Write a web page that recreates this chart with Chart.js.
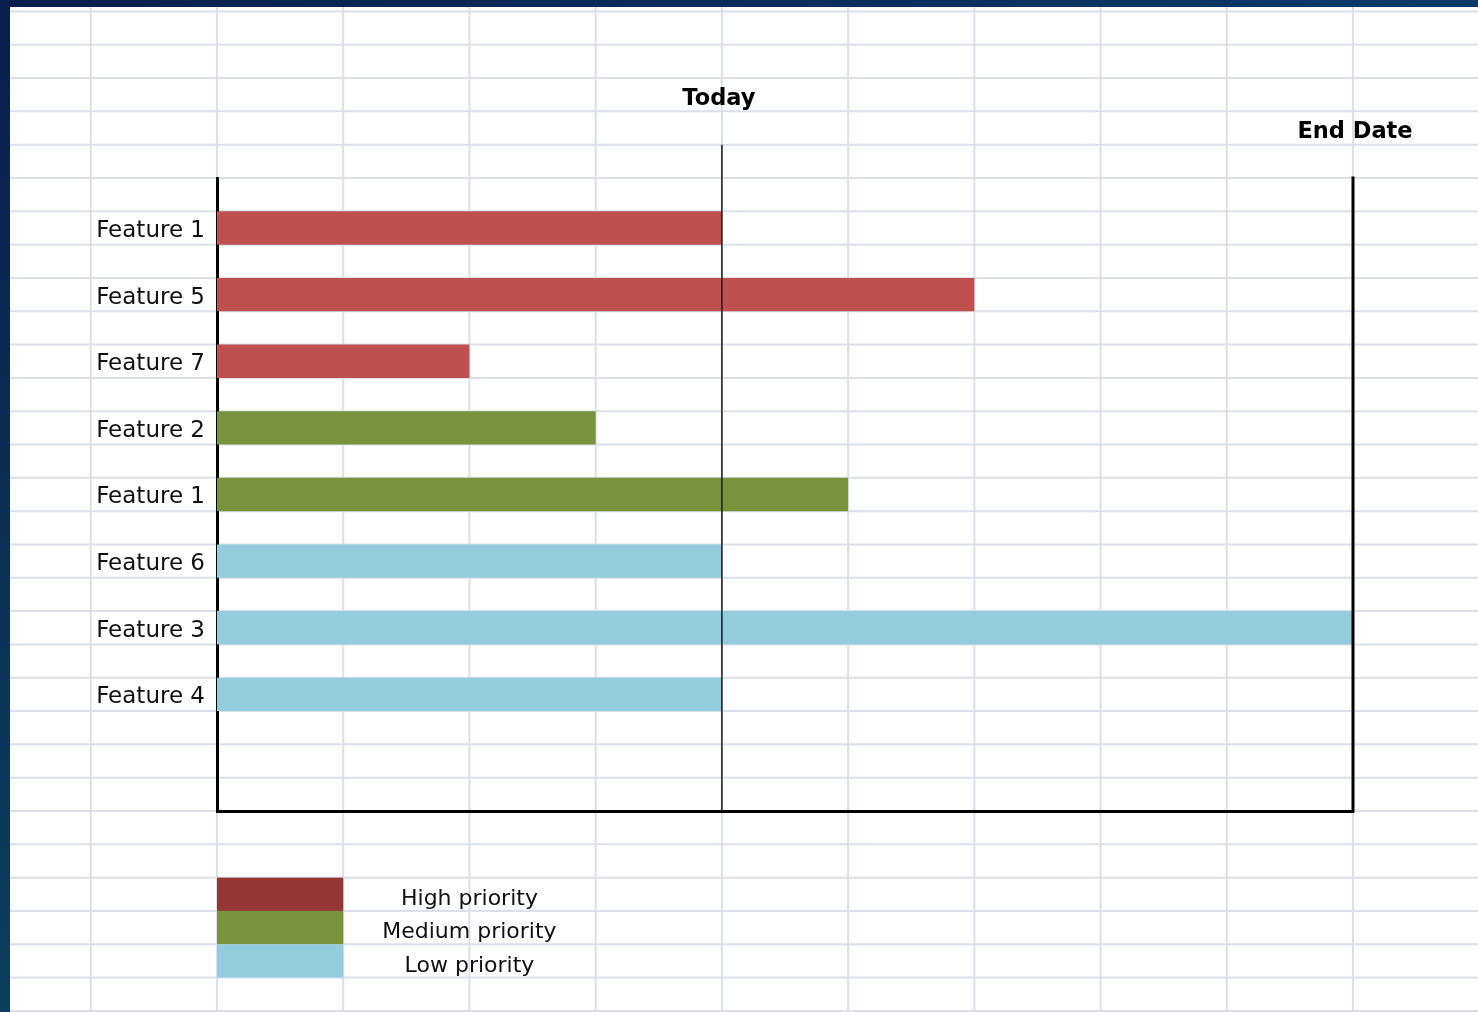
<!DOCTYPE html>
<html>
<head>
<meta charset="utf-8">
<title>Feature roadmap</title>
<script src="https://cdn.jsdelivr.net/npm/chart.js@4"></script>
<style>
  html, body { margin: 0; padding: 0; overflow: hidden; background: #fff; }
  canvas { display: block; }
</style>
</head>
<body>
<canvas id="gantt" width="1478" height="1012"></canvas>
<script>
const features = ['Feature 1', 'Feature 5', 'Feature 7', 'Feature 2', 'Feature 1', 'Feature 6', 'Feature 3', 'Feature 4']
const durations = [4, 6, 2, 3, 5, 4, 9, 4]
const priorities = ['High', 'High', 'High', 'Medium', 'Medium', 'Low', 'Low', 'Low']
const priorityNames = ['High', 'Medium', 'Low']
const legendLabels = ['High priority', 'Medium priority', 'Low priority']
const todayValue = 4
const endDateValue = 9
const markerLabels = ['Today', 'End Date']

const barColors = { High: '#c0504d', Medium: '#77933c', Low: '#93cddd' }
const legendColors = { High: '#953735', Medium: '#77933c', Low: '#93cddd' }
const FONT = '"DejaVu Sans", Verdana, sans-serif'

const datasets = priorityNames.map((p) => ({
  label: p,
  data: features
    .map((f, i) => (priorities[i] === p ? { x: durations[i], y: i } : null))
    .filter(Boolean),
  backgroundColor: barColors[p],
  grouped: false,
  categoryPercentage: 1,
  barPercentage: 0.5,
}))

function hLine(ctx, x1, x2, y) {
  ctx.beginPath()
  ctx.moveTo(x1, y)
  ctx.lineTo(x2, y)
  ctx.stroke()
}

function vLine(ctx, x, y1, y2) {
  ctx.beginPath()
  ctx.moveTo(x, y1)
  ctx.lineTo(x, y2)
  ctx.stroke()
}

// spreadsheet cells behind the chart, lined up with the scales
const sheetPlugin = {
  id: 'sheet',
  beforeDraw(chart) {
    const { ctx, width, height } = chart
    const { x, y } = chart.scales
    ctx.save()
    ctx.fillStyle = '#fff'
    ctx.fillRect(0, 0, width, height)

    ctx.strokeStyle = '#dadfea'
    ctx.lineWidth = 2
    for (let k = -2; k <= 11; k++) vLine(ctx, x.getPixelForValue(k), 0, height)
    for (let v = -3.75; v <= 12.5; v += 0.5) hLine(ctx, 0, width, y.getPixelForValue(v))

    let g = ctx.createLinearGradient(0, 0, width, 0)
    g.addColorStop(0, '#0a1f4c')
    g.addColorStop(1, '#0c3a69')
    ctx.fillStyle = g
    ctx.fillRect(0, 0, width, 7)

    g = ctx.createLinearGradient(0, 0, 0, height)
    g.addColorStop(0, '#0a1f4c')
    g.addColorStop(1, '#0d3e5e')
    ctx.fillStyle = g
    ctx.fillRect(0, 0, 10, height)
    ctx.restore()
  },
  afterDatasetsDraw(chart) {
    const { ctx, chartArea } = chart
    const { x, y } = chart.scales
    ctx.save()
    ctx.strokeStyle = '#1a1a1a'
    ctx.lineWidth = 1.5
    vLine(ctx, x.getPixelForValue(todayValue), y.getPixelForValue(-1.25), chartArea.bottom)
    ctx.strokeStyle = '#000'
    ctx.lineWidth = 3
    vLine(ctx, x.getPixelForValue(endDateValue), chartArea.top - 1.5, chartArea.bottom + 1.5)

    ctx.fillStyle = '#000'
    ctx.font = 'bold 22.5px ' + FONT
    ctx.textAlign = 'center'
    ctx.textBaseline = 'middle'
    ctx.fillText(markerLabels[0], x.getPixelForValue(todayValue) - 3, y.getPixelForValue(-2) + 4)
    ctx.fillText(markerLabels[1], x.getPixelForValue(endDateValue) + 2, y.getPixelForValue(-1.5) + 4)
    ctx.restore()
  },
  afterDraw(chart) {
    const { ctx } = chart
    const { x, y } = chart.scales
    ctx.save()
    ctx.font = '22px ' + FONT
    ctx.textAlign = 'center'
    ctx.textBaseline = 'middle'
    priorityNames.forEach((p, i) => {
      const top = y.getPixelForValue(9.75 + i * 0.5)
      const bottom = y.getPixelForValue(10.25 + i * 0.5)
      const left = x.getPixelForValue(0)
      const right = x.getPixelForValue(1)
      ctx.fillStyle = legendColors[p]
      ctx.fillRect(left, top, right - left, bottom - top)
      ctx.fillStyle = '#111'
      ctx.fillText(legendLabels[i], x.getPixelForValue(2), (top + bottom) / 2 + 5)
    })
    ctx.restore()
  },
}

new Chart(document.getElementById('gantt'), {
  type: 'bar',
  data: { datasets },
  plugins: [sheetPlugin],
  options: {
    indexAxis: 'y',
    responsive: false,
    animation: false,
    layout: { padding: { left: 0, top: 178, right: 125, bottom: 201 } },
    plugins: { legend: { display: false }, tooltip: { enabled: false } },
    scales: {
      x: {
        type: 'linear',
        min: 0,
        max: endDateValue,
        ticks: { display: false },
        grid: { display: false, drawTicks: false },
        border: { display: true, color: '#000', width: 3 },
        afterFit: (s) => { s.height = 0 },
      },
      y: {
        type: 'linear',
        reverse: true,
        offset: false,
        min: -0.75,
        max: 8.75,
        afterBuildTicks: (s) => {
          s.ticks = s.ticks.filter((t) => Number.isInteger(t.value) && t.value >= 0 && t.value < features.length)
        },
        ticks: {
          stepSize: 1,
          autoSkip: false,
          callback: (v) => features[v],
          font: { family: FONT, size: 23 },
          color: '#111',
          padding: 12,
          labelOffset: 3,
        },
        grid: { display: false, drawTicks: false, offset: false },
        border: { display: true, color: '#000', width: 3 },
        afterFit: (s) => { s.width = 217 },
      },
    },
  },
})
</script>
</body>
</html>
